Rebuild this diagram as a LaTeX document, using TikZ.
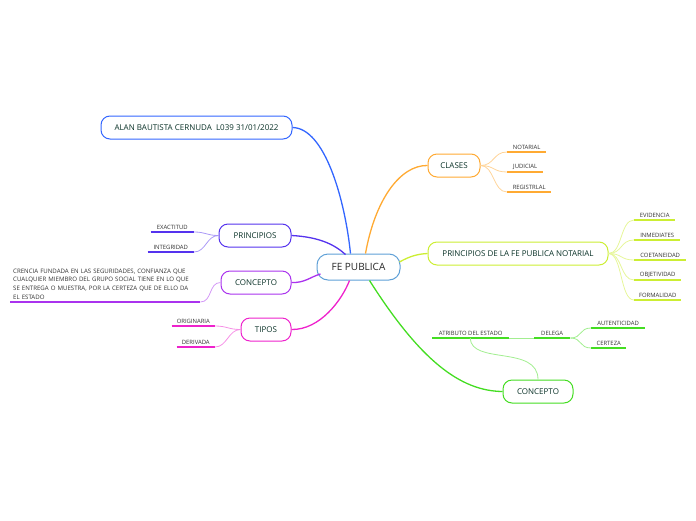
\documentclass[tikz,border=0pt]{standalone}
\usepackage{fontspec}
\setmainfont{Open Sans}
\definecolor{txt}{RGB}{10,50,40}
\definecolor{subtxt}{RGB}{50,50,50}
\definecolor{cc}{RGB}{95,160,215}
\definecolor{cblue}{RGB}{51,102,255}
\definecolor{cindigo}{RGB}{85,51,238}
\definecolor{cpurple}{RGB}{170,51,238}
\definecolor{cmag}{RGB}{238,34,204}
\definecolor{corange}{RGB}{255,170,51}
\definecolor{clime}{RGB}{204,238,51}
\definecolor{cgreen}{RGB}{68,221,34}
\usetikzlibrary{calc}
\tikzset{
  mainbox/.style={draw=#1, rounded corners=9pt, line width=1pt, fill=white, minimum height=23pt, inner xsep=0pt, font=\fontsize{8}{9}\selectfont, text=txt},
  sublbl/.style={font=\fontsize{5.9}{6.5}\selectfont, inner xsep=0pt, inner ysep=2.5pt, text=subtxt},
  ul/.style={draw=#1, line width=1.6pt},
  mainln/.style={draw=#1, line width=1.3pt},
  subln/.style={draw=#1!50, line width=0.8pt},
}
\begin{document}
\begin{tikzpicture}[x=1pt,y=-1pt]
\useasboundingbox (0,0) rectangle (696,520);
% central
\node[draw=cc, rounded corners=11pt, line width=1pt, fill=white, minimum width=83pt, minimum height=26pt, font=\fontsize{10}{11}\selectfont, text=black!85] (c) at (358.5,267) {FE PUBLICA};
% main nodes
\node[mainbox=cblue, minimum width=191pt] (alan) at (196.5,127.5) {ALAN BAUTISTA CERNUDA\ \ L039 31/01/2022};
\node[mainbox=cindigo, minimum width=72pt] (pri) at (255,235.5) {PRINCIPIOS};
\node[mainbox=cpurple, minimum width=70pt] (conl) at (256,282.5) {CONCEPTO};
\node[mainbox=cmag, minimum width=50pt] (tip) at (266,329.5) {TIPOS};
\node[mainbox=corange, minimum width=52pt] (cla) at (454,165.5) {CLASES};
\node[mainbox=clime, minimum width=180pt] (pfpn) at (518,253.5) {PRINCIPIOS DE LA FE PUBLICA NOTARIAL};
\node[mainbox=cgreen, minimum width=70pt] (conr) at (538,391.5) {CONCEPTO};
% main connectors
\draw[mainln=cblue] (alan.east) .. controls (325,128) and (345,200) .. ($(c.north)+(-8,0)$);
\draw[mainln=cindigo] (pri.east) .. controls (320,237) and (335,245) .. ($(c.north)+(-13,1)$);
\draw[mainln=cpurple] (conl.east) .. controls (305,283) and (310,277) .. ($(c.west)+(4,7)$);
\draw[mainln=cmag] (tip.east) .. controls (320,330) and (342,300) .. ($(c.south)+(-9,0)$);
\draw[mainln=corange] ($(c.north)+(7,0)$) .. controls (375,200) and (400,165) .. (cla.west);
\draw[mainln=clime] ($(c.east)+(-1,-5)$) .. controls (410,256) and (418,254) .. (pfpn.west);
\draw[mainln=cgreen] ($(c.south)+(11,0)$) .. controls (420,360) and (460,391) .. (conr.west);
% left subs
\node[sublbl, minimum width=43pt, anchor=south east] (exa) at (194,232) {EXACTITUD};
\node[sublbl, minimum width=46pt, anchor=south east] (int) at (194,252) {INTEGRIDAD};
\draw[ul=cindigo] (exa.south west) -- (exa.south east);
\draw[ul=cindigo] (int.south west) -- (int.south east);
\draw[subln=cindigo] (pri.west) .. controls +(-12,0) and +(12,0) .. (exa.south east);
\draw[subln=cindigo] (pri.west) .. controls +(-12,0) and +(12,0) .. (int.south east);
\node[sublbl, text width=184pt, inner xsep=3pt, align=left, font=\fontsize{6.1}{8.7}\selectfont, anchor=south west] (par) at (10,302) {CRENCIA FUNDADA EN LAS SEGURIDADES, CONFIANZA QUE\\CUALQUIER MIEMBRO DEL GRUPO SOCIAL TIENE EN LO QUE\\SE ENTREGA O MUESTRA, POR LA CERTEZA QUE DE ELLO DA\\EL ESTADO};
\draw[ul=cpurple] (par.south west) -- (par.south east);
\draw[subln=cpurple] (conl.west) .. controls +(-12,0) and +(12,0) .. (par.south east);
\node[sublbl, minimum width=43pt, anchor=south east] (ori) at (215,326) {ORIGINARIA};
\node[sublbl, minimum width=38pt, anchor=south east] (der) at (215,347) {DERIVADA};
\draw[ul=cmag] (ori.south west) -- (ori.south east);
\draw[ul=cmag] (der.south west) -- (der.south east);
\draw[subln=cmag] (tip.west) .. controls +(-12,0) and +(12,0) .. (ori.south east);
\draw[subln=cmag] (tip.west) .. controls +(-12,0) and +(12,0) .. (der.south east);
% clases subs
\node[sublbl, minimum width=39pt, anchor=south west] (not) at (507,152) {NOTARIAL};
\node[sublbl, minimum width=36pt, anchor=south west] (jud) at (507,172) {JUDICIAL};
\node[sublbl, minimum width=44pt, anchor=south west] (reg) at (507,192) {REGISTRLAL};
\foreach \n in {not,jud,reg}{
  \draw[ul=corange] (\n.south west) -- (\n.south east);
  \draw[subln=corange] (cla.east) .. controls +(14,0) and +(-14,0) .. (\n.south west);
}
% pfpn subs
\node[sublbl, minimum width=41pt, anchor=south west] (evi) at (634,220) {EVIDENCIA};
\node[sublbl, minimum width=46pt, anchor=south west] (inm) at (634,240) {INMEDIATES};
\node[sublbl, minimum width=52pt, anchor=south west] (coe) at (634,260) {COETANEIDAD};
\node[sublbl, minimum width=47pt, anchor=south west] (obj) at (634,280) {OBJETIVIDAD};
\node[sublbl, minimum width=47pt, anchor=south west] (for) at (634,300) {FORMALIDAD};
\foreach \n in {evi,inm,coe,obj,for}{
  \draw[ul=clime] (\n.south west) -- (\n.south east);
  \draw[subln=clime] (pfpn.east) .. controls +(14,0) and +(-14,0) .. (\n.south west);
}
% concepto right subs
\node[sublbl, minimum width=77pt, anchor=south west] (atr) at (432,338) {ATRIBUTO DEL ESTADO};
\node[sublbl, minimum width=36pt, anchor=south west] (del) at (534,338) {DELEGA};
\node[sublbl, minimum width=54pt, anchor=south west] (aut) at (591,328) {AUTENTICIDAD};
\node[sublbl, minimum width=35pt, anchor=south west] (cer) at (591,348) {CERTEZA};
\foreach \n in {atr,del,aut,cer}{
  \draw[ul=cgreen] (\n.south west) -- (\n.south east);
}
\draw[subln=cgreen] (conr.north) .. controls (538,345) and (471,365) .. ($(atr.south)+(-0.5,0)$);
\draw[subln=cgreen] (atr.south east) -- (del.south west);
\draw[subln=cgreen] (del.south east) .. controls +(12,0) and +(-12,0) .. (aut.south west);
\draw[subln=cgreen] (del.south east) .. controls +(12,0) and +(-12,0) .. (cer.south west);
\end{tikzpicture}
\end{document}
